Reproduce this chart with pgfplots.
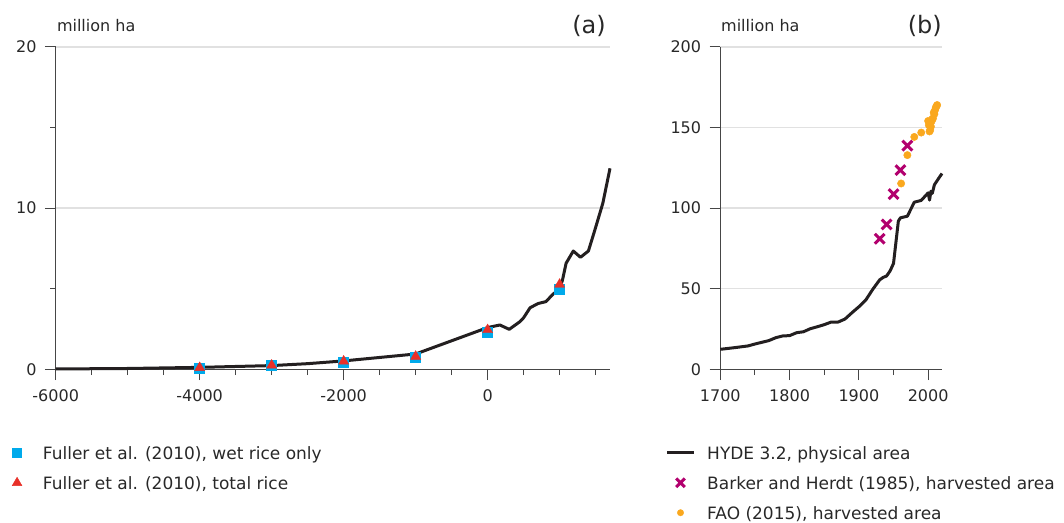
\documentclass[border=0pt]{standalone}
\usepackage{fontspec}
\setmainfont{DejaVu Sans}
\usepackage{pgfplots}
\pgfplotsset{compat=1.18}
\definecolor{cyanc}{RGB}{0,170,235}
\definecolor{redc}{RGB}{232,48,40}
\definecolor{magc}{RGB}{178,0,110}
\definecolor{orac}{RGB}{250,168,30}
\definecolor{linec}{RGB}{35,31,32}
\definecolor{axisgray}{RGB}{70,70,70}
\definecolor{gridgray}{RGB}{225,225,225}
\definecolor{textgray}{RGB}{40,40,40}
\begin{document}
\begin{tikzpicture}
\useasboundingbox (0pt,0pt) rectangle (1064pt,522pt);
\pgfplotsset{
 base/.style={
  scale only axis, anchor=south west,
  axis lines*=left, axis line style={draw=axisgray, line width=1pt},
  tick align=outside, major tick length=10.7pt, minor tick length=5.7pt,
  minor tick style={draw=axisgray, line width=1pt},
  major tick style={draw=axisgray, line width=1pt},
  ymajorgrids, grid style={draw=gridgray, line width=1.3pt},
  ticklabel style={font=\fontsize{16}{19}\selectfont, text=textgray},
  xticklabel style={yshift=-6pt},
  yticklabel style={xshift=-5pt},
  /pgf/number format/assume math mode=true,
  /pgf/number format/set thousands separator={},
  clip=false,
  legend cell align=left,
  legend style={draw=none, fill=none, font=\fontsize{17}{20}\selectfont, text=textgray,
    anchor=north west, inner sep=0pt, row sep=14pt,
    nodes={inner sep=0pt, text height=12pt, text depth=4pt}},
 },
 legsq/.style={legend image code/.code={\path[draw=cyanc, fill=cyanc] plot[only marks, mark=square*, mark size=4.6pt] coordinates {(0pt,2.5pt)};}},
 legtri/.style={legend image code/.code={\path[draw=redc, fill=redc] plot[only marks, mark=triangle*, mark size=5.6pt] coordinates {(0pt,2.5pt)};}},
 legline/.style={legend image code/.code={\draw[linec, line width=3pt] (-13.2pt,2.5pt) -- (13.2pt,2.5pt);}},
 legx/.style={legend image code/.code={\path[draw=magc, line width=3pt] plot[only marks, mark=x, mark size=6.1pt] coordinates {(0pt,2.5pt)};}},
 legdot/.style={legend image code/.code={\path[draw=orac, fill=orac] plot[only marks, mark=*, mark size=3.2pt] coordinates {(0pt,2.5pt)};}},
}
% ---------------- panel (a)
\begin{axis}[base,
  at={(55.7pt,152.7pt)}, width=554.3pt, height=322.3pt,
  xmin=-6000, xmax=1700, ymin=0, ymax=20,
  xtick={-6000,-4000,-2000,0},
  minor xtick={-5500,-5000,-4500,-3500,-3000,-2500,-1500,-1000,-500,500,1000,1500},
  ytick={0,10,20}, minor ytick={5,15},
  legend style={at={(axis description cs:-0.0788,-0.2411)}, column sep=21pt},
]
\addplot[linec, line width=3pt, line join=round, forget plot] coordinates {
(-6000,0.02) (-5000,0.05) (-4000,0.12) (-3000,0.23) (-2500,0.35) (-2000,0.52)
(-1000,0.95) (0,2.59) (170,2.75) (300,2.48) (450,2.96) (500,3.2) (590,3.82)
(700,4.08) (810,4.2) (910,4.67) (1000,4.96) (1040,5.54) (1090,6.58)
(1190,7.34) (1290,6.95) (1400,7.34) (1490,8.65) (1600,10.3) (1700,12.47)};
\addplot[only marks, mark=square*, mark size=5pt, color=cyanc, legsq]
 coordinates {(-4000,0.06) (-3000,0.25) (-2000,0.41) (-1000,0.72) (0,2.3) (1000,5.0)};
\addlegendentry{Fuller et al. (2010), wet rice only}
\addplot[only marks, mark=triangle*, mark size=5.8pt, color=redc, legtri]
 coordinates {(-4000,0.1) (-3000,0.25) (-2000,0.5) (-1000,0.8) (0,2.45) (1000,5.27)};
\addlegendentry{Fuller et al. (2010), total rice}
\node[anchor=base west, inner sep=0pt, font=\fontsize{16}{19}\selectfont, text=textgray]
  at (axis description cs:0.002,1.0475) {million ha};
\node[anchor=base east, inner sep=0pt, font=\fontsize{24}{28}\selectfont, text=textgray]
  at (axis description cs:0.9928,1.0425) {(a)};
\end{axis}
% ---------------- panel (b)
\begin{axis}[base,
  at={(720.3pt,152.7pt)}, width=221.7pt, height=322.3pt,
  xmin=1700, xmax=2020, ymin=0, ymax=200,
  xtick={1700,1800,1900,2000}, minor xtick={1750,1850,1950},
  ytick={0,50,100,150,200},
  legend style={at={(axis description cs:-0.2467,-0.2411)}, column sep=12pt},
]
\addplot[linec, line width=3pt, line join=round, legline] coordinates {
(1700,12.4) (1720,13.4) (1740,14.5) (1750,15.7) (1770,17.8) (1780,19.6) (1790,20.7)
(1800,20.9) (1810,22.7) (1820,23.3) (1830,25.2) (1840,26.4) (1850,27.7) (1860,29.3)
(1870,29.3) (1880,31.2) (1890,35.1) (1900,38.8) (1910,43.0) (1920,49.6) (1930,55.5)
(1935,57.0) (1940,57.9) (1945,61.0) (1950,65.7) (1957,92.0) (1960,94.0) (1970,95.0)
(1980,103.7) (1990,104.8) (2000,109.5) (2002,105.0) (2004,110.5) (2006,109.2)
(2009,114.5) (2015,118.4) (2020,121.5)};
\addlegendentry{HYDE 3.2, physical area}
\addplot[only marks, mark=x, mark size=6.9pt, color=magc, line width=3pt, legx]
 coordinates {(1930,81.0) (1940,89.9) (1950,108.7) (1960,123.6) (1970,138.8)};
\addlegendentry{Barker and Herdt (1985), harvested area}
\addplot[only marks, mark=*, mark size=3.7pt, color=orac, legdot]
 coordinates {(1961,115.3) (1970,132.9) (1980,144.2) (1990,146.9) (2000,154.1)
 (2001,151.5) (2002,147.6) (2003,148.5) (2004,150.6) (2005,153.9) (2006,155.3)
 (2007,155.7) (2008,159.3) (2009,158.4) (2010,160.9) (2011,162.4) (2012,163.2) (2013,164.0)};
\addlegendentry{FAO (2015), harvested area}
\node[anchor=base west, inner sep=0pt, font=\fontsize{16}{19}\selectfont, text=textgray]
  at (axis description cs:0.003,1.0475) {million ha};
\node[anchor=base east, inner sep=0pt, font=\fontsize{24}{28}\selectfont, text=textgray]
  at (axis description cs:1.0,1.0425) {(b)};
\end{axis}
\end{tikzpicture}
\end{document}
